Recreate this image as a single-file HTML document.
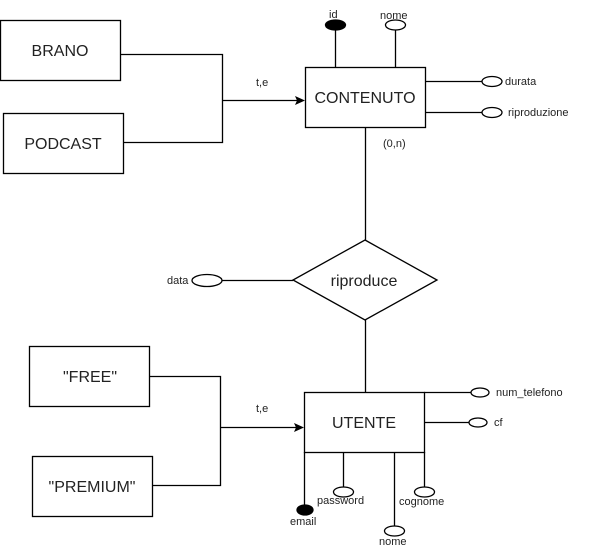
<!DOCTYPE html>
<html><head><meta charset="utf-8"><style>
html,body{margin:0;padding:0;background:#fff;}
svg{display:block;}
text{font-family:"Liberation Sans",sans-serif;fill:#222;}
</style></head><body>
<svg width="593" height="557" viewBox="0 0 593 557" xmlns="http://www.w3.org/2000/svg">
<g stroke="#000" stroke-width="1.3" fill="none">
<rect x="0.5" y="20.5" width="120" height="60" fill="#fff"/>
<rect x="3.5" y="113.5" width="120" height="60" fill="#fff"/>
<polyline points="120,54.5 222.5,54.5 222.5,142.5 124,142.5"/>
<line x1="222" y1="100.5" x2="298" y2="100.5"/>
<rect x="305.5" y="67.5" width="120" height="60" fill="#fff"/>
<line x1="335.5" y1="29" x2="335.5" y2="67"/>
<line x1="395.5" y1="30" x2="395.5" y2="67"/>
<line x1="425" y1="81.5" x2="483" y2="81.5"/>
<line x1="425" y1="112.5" x2="483" y2="112.5"/>
<line x1="365.5" y1="127" x2="365.5" y2="240"/>
<polygon points="365,240 437,280 365,320 293,280" fill="#fff"/>
<line x1="222" y1="280.5" x2="293" y2="280.5"/>
<line x1="365.5" y1="320" x2="365.5" y2="392"/>
<rect x="29.5" y="346.5" width="120" height="60" fill="#fff"/>
<rect x="32.5" y="456.5" width="120" height="60" fill="#fff"/>
<polyline points="149,376.5 220.5,376.5 220.5,485.5 153,485.5"/>
<line x1="220" y1="427.5" x2="297" y2="427.5"/>
<rect x="304.5" y="392.5" width="120" height="60" fill="#fff"/>
<line x1="424" y1="392.5" x2="472" y2="392.5"/>
<line x1="424" y1="422.5" x2="470" y2="422.5"/>
<line x1="304.5" y1="452" x2="304.5" y2="505"/>
<line x1="343.5" y1="452" x2="343.5" y2="487"/>
<line x1="394.5" y1="452" x2="394.5" y2="526"/>
<line x1="424.5" y1="452" x2="424.5" y2="487"/>
<ellipse cx="335.5" cy="25" rx="10" ry="5" fill="#000"/>
<ellipse cx="395.5" cy="25" rx="10" ry="5" fill="#fff"/>
<ellipse cx="492" cy="81.5" rx="10" ry="5" fill="#fff"/>
<ellipse cx="492" cy="112.5" rx="10" ry="5" fill="#fff"/>
<ellipse cx="207" cy="280.5" rx="15" ry="6" fill="#fff"/>
<ellipse cx="480" cy="392.5" rx="9" ry="4.5" fill="#fff"/>
<ellipse cx="478" cy="422.5" rx="9" ry="4.5" fill="#fff"/>
<ellipse cx="305" cy="510" rx="8" ry="5" fill="#000"/>
<ellipse cx="343.5" cy="492" rx="10" ry="5" fill="#fff"/>
<ellipse cx="424.5" cy="492" rx="10" ry="5" fill="#fff"/>
<ellipse cx="394.5" cy="531" rx="10" ry="5" fill="#fff"/>
</g>
<polygon points="305,100.5 295,96 297,100.5 295,105" fill="#000"/>
<polygon points="304,427.5 294,423 296,427.5 294,432" fill="#000"/>
<g font-size="16" text-anchor="middle">
<text x="60" y="56">BRANO</text>
<text x="63" y="149">PODCAST</text>
<text x="365" y="103">CONTENUTO</text>
<text x="364" y="286">riproduce</text>
<text x="90" y="382">"FREE"</text>
<text x="92" y="492">"PREMIUM"</text>
<text x="364" y="428">UTENTE</text>
</g>
<g font-size="11">
<text x="329" y="18">id</text>
<text x="380" y="19">nome</text>
<text x="505" y="85">durata</text>
<text x="508" y="116">riproduzione</text>
<text x="383" y="147">(0,n)</text>
<text x="167" y="284">data</text>
<text x="256" y="86">t,e</text>
<text x="256" y="412">t,e</text>
<text x="496" y="396">num_telefono</text>
<text x="494" y="426">cf</text>
<text x="317" y="504">password</text>
<text x="399" y="505">cognome</text>
<text x="290" y="525">email</text>
<text x="379" y="545">nome</text>
</g>
</svg>
</body></html>
